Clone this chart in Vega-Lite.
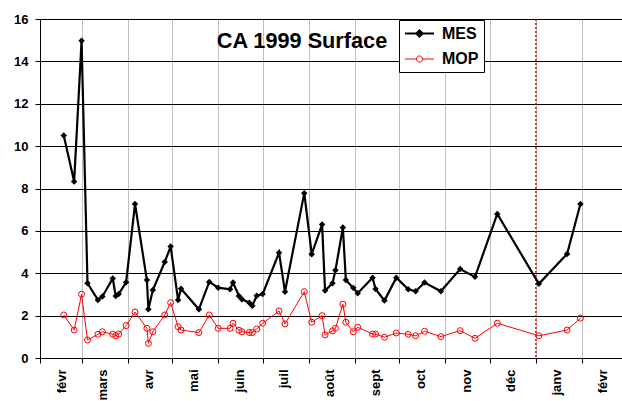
{
  "$schema": "https://vega.github.io/schema/vega-lite/v6.json",
  "width": 582,
  "height": 339,
  "autosize": {"type": "none"},
  "padding": {"left": 40, "top": 19, "right": 0, "bottom": 43},
  "background": "white",
  "config": {
    "view": {"stroke": null},
    "font": "Liberation Sans",
    "axis": {
      "grid": true,
      "gridOpacity": 1,
      "gridWidth": 1,
      "labelFont": "Liberation Sans",
      "labelFontSize": 13,
      "labelFontWeight": "bold",
      "labelColor": "black",
      "tickSize": 5,
      "tickColor": "black",
      "domainColor": "black"
    },
    "axisX": {
      "gridColor": "#c0c0c0",
      "labelAngle": 270,
      "labelAlign": "right",
      "labelBaseline": "middle",
      "labelOffset": 21,
      "labelPadding": 6,
      "labelOverlap": false,
      "labelFlush": false
    },
    "axisY": {
      "gridColor": "#000000",
      "labelPadding": 7
    }
  },
  "title": {
    "text": "CA 1999 Surface",
    "font": "Liberation Sans",
    "fontSize": 21.7,
    "fontWeight": "bold",
    "color": "black",
    "anchor": "middle",
    "frame": "group",
    "dx": -29,
    "offset": -57,
    "baseline": "alphabetic"
  },
  "datasets": {
    "marker": [{"date": "2000-01-01"}],
    "series": [
      {"date": "1999-02-17", "series": "MES", "value": 10.5},
      {"date": "1999-02-24", "series": "MES", "value": 8.33},
      {"date": "1999-03-01", "series": "MES", "value": 14.97},
      {"date": "1999-03-05", "series": "MES", "value": 3.53},
      {"date": "1999-03-12", "series": "MES", "value": 2.74},
      {"date": "1999-03-15", "series": "MES", "value": 2.9},
      {"date": "1999-03-22", "series": "MES", "value": 3.75},
      {"date": "1999-03-24", "series": "MES", "value": 2.93},
      {"date": "1999-03-26", "series": "MES", "value": 3.02},
      {"date": "1999-03-31", "series": "MES", "value": 3.57},
      {"date": "1999-04-06", "series": "MES", "value": 7.27},
      {"date": "1999-04-14", "series": "MES", "value": 3.68},
      {"date": "1999-04-15", "series": "MES", "value": 2.3},
      {"date": "1999-04-18", "series": "MES", "value": 3.21},
      {"date": "1999-04-26", "series": "MES", "value": 4.53},
      {"date": "1999-04-30", "series": "MES", "value": 5.26},
      {"date": "1999-05-05", "series": "MES", "value": 2.74},
      {"date": "1999-05-07", "series": "MES", "value": 3.27},
      {"date": "1999-05-19", "series": "MES", "value": 2.3},
      {"date": "1999-05-26", "series": "MES", "value": 3.59},
      {"date": "1999-06-01", "series": "MES", "value": 3.32},
      {"date": "1999-06-09", "series": "MES", "value": 3.24},
      {"date": "1999-06-11", "series": "MES", "value": 3.56},
      {"date": "1999-06-15", "series": "MES", "value": 2.93},
      {"date": "1999-06-17", "series": "MES", "value": 2.77},
      {"date": "1999-06-22", "series": "MES", "value": 2.61},
      {"date": "1999-06-24", "series": "MES", "value": 2.47},
      {"date": "1999-06-27", "series": "MES", "value": 2.94},
      {"date": "1999-07-01", "series": "MES", "value": 3.02},
      {"date": "1999-07-12", "series": "MES", "value": 4.97},
      {"date": "1999-07-16", "series": "MES", "value": 3.13},
      {"date": "1999-07-29", "series": "MES", "value": 7.78},
      {"date": "1999-08-03", "series": "MES", "value": 4.9},
      {"date": "1999-08-10", "series": "MES", "value": 6.3},
      {"date": "1999-08-12", "series": "MES", "value": 3.18},
      {"date": "1999-08-17", "series": "MES", "value": 3.53},
      {"date": "1999-08-19", "series": "MES", "value": 4.14},
      {"date": "1999-08-24", "series": "MES", "value": 6.16},
      {"date": "1999-08-26", "series": "MES", "value": 3.68},
      {"date": "1999-08-31", "series": "MES", "value": 3.31},
      {"date": "1999-09-03", "series": "MES", "value": 3.06},
      {"date": "1999-09-13", "series": "MES", "value": 3.79},
      {"date": "1999-09-15", "series": "MES", "value": 3.26},
      {"date": "1999-09-21", "series": "MES", "value": 2.71},
      {"date": "1999-09-29", "series": "MES", "value": 3.79},
      {"date": "1999-10-07", "series": "MES", "value": 3.24},
      {"date": "1999-10-12", "series": "MES", "value": 3.15},
      {"date": "1999-10-18", "series": "MES", "value": 3.56},
      {"date": "1999-10-29", "series": "MES", "value": 3.15},
      {"date": "1999-11-11", "series": "MES", "value": 4.2},
      {"date": "1999-11-21", "series": "MES", "value": 3.83},
      {"date": "1999-12-06", "series": "MES", "value": 6.8},
      {"date": "2000-01-03", "series": "MES", "value": 3.5},
      {"date": "2000-01-22", "series": "MES", "value": 4.91},
      {"date": "2000-01-31", "series": "MES", "value": 7.27},
      {"date": "1999-02-17", "series": "MOP", "value": 2.03},
      {"date": "1999-02-24", "series": "MOP", "value": 1.32},
      {"date": "1999-03-01", "series": "MOP", "value": 3.01},
      {"date": "1999-03-05", "series": "MOP", "value": 0.85},
      {"date": "1999-03-12", "series": "MOP", "value": 1.12},
      {"date": "1999-03-15", "series": "MOP", "value": 1.24},
      {"date": "1999-03-22", "series": "MOP", "value": 1.12},
      {"date": "1999-03-24", "series": "MOP", "value": 1.05},
      {"date": "1999-03-26", "series": "MOP", "value": 1.13},
      {"date": "1999-03-31", "series": "MOP", "value": 1.53},
      {"date": "1999-04-06", "series": "MOP", "value": 2.17},
      {"date": "1999-04-14", "series": "MOP", "value": 1.4},
      {"date": "1999-04-15", "series": "MOP", "value": 0.69},
      {"date": "1999-04-18", "series": "MOP", "value": 1.24},
      {"date": "1999-04-26", "series": "MOP", "value": 2.03},
      {"date": "1999-04-30", "series": "MOP", "value": 2.61},
      {"date": "1999-05-05", "series": "MOP", "value": 1.48},
      {"date": "1999-05-07", "series": "MOP", "value": 1.32},
      {"date": "1999-05-19", "series": "MOP", "value": 1.2},
      {"date": "1999-05-26", "series": "MOP", "value": 2.03},
      {"date": "1999-06-01", "series": "MOP", "value": 1.4},
      {"date": "1999-06-09", "series": "MOP", "value": 1.4},
      {"date": "1999-06-11", "series": "MOP", "value": 1.64},
      {"date": "1999-06-15", "series": "MOP", "value": 1.31},
      {"date": "1999-06-17", "series": "MOP", "value": 1.24},
      {"date": "1999-06-22", "series": "MOP", "value": 1.2},
      {"date": "1999-06-24", "series": "MOP", "value": 1.2},
      {"date": "1999-06-27", "series": "MOP", "value": 1.37},
      {"date": "1999-07-01", "series": "MOP", "value": 1.64},
      {"date": "1999-07-12", "series": "MOP", "value": 2.22},
      {"date": "1999-07-16", "series": "MOP", "value": 1.61},
      {"date": "1999-07-29", "series": "MOP", "value": 3.13},
      {"date": "1999-08-03", "series": "MOP", "value": 1.69},
      {"date": "1999-08-10", "series": "MOP", "value": 2.0},
      {"date": "1999-08-12", "series": "MOP", "value": 1.09},
      {"date": "1999-08-17", "series": "MOP", "value": 1.28},
      {"date": "1999-08-19", "series": "MOP", "value": 1.4},
      {"date": "1999-08-24", "series": "MOP", "value": 2.54},
      {"date": "1999-08-26", "series": "MOP", "value": 1.69},
      {"date": "1999-08-31", "series": "MOP", "value": 1.24},
      {"date": "1999-09-03", "series": "MOP", "value": 1.45},
      {"date": "1999-09-13", "series": "MOP", "value": 1.13},
      {"date": "1999-09-15", "series": "MOP", "value": 1.13},
      {"date": "1999-09-21", "series": "MOP", "value": 0.98},
      {"date": "1999-09-29", "series": "MOP", "value": 1.18},
      {"date": "1999-10-07", "series": "MOP", "value": 1.12},
      {"date": "1999-10-12", "series": "MOP", "value": 1.05},
      {"date": "1999-10-18", "series": "MOP", "value": 1.26},
      {"date": "1999-10-29", "series": "MOP", "value": 1.01},
      {"date": "1999-11-11", "series": "MOP", "value": 1.29},
      {"date": "1999-11-21", "series": "MOP", "value": 0.93},
      {"date": "1999-12-06", "series": "MOP", "value": 1.64},
      {"date": "2000-01-03", "series": "MOP", "value": 1.05},
      {"date": "2000-01-22", "series": "MOP", "value": 1.32},
      {"date": "2000-01-31", "series": "MOP", "value": 1.88}
    ]
  },
  "layer": [
    {
      "data": {"name": "marker"},
      "mark": {"type": "rule", "color": "#ff0000", "strokeDash": [2, 2], "strokeWidth": 1.5},
      "encoding": {
        "x": {
          "field": "date",
          "type": "temporal",
          "scale": {
            "type": "utc",
            "domain": [
              {"year": 1999, "month": 2, "date": 1, "utc": true},
              {"year": 2000, "month": 2, "date": 28, "utc": true}
            ]
          },
          "axis": {
            "title": null,
            "grid": true,
            "gridColor": "#c0c0c0",
            "values": [
              {"year": 1999, "month": 2, "date": 1, "utc": true},
              {"year": 1999, "month": 3, "date": 1, "utc": true},
              {"year": 1999, "month": 4, "date": 1, "utc": true},
              {"year": 1999, "month": 5, "date": 1, "utc": true},
              {"year": 1999, "month": 6, "date": 1, "utc": true},
              {"year": 1999, "month": 7, "date": 1, "utc": true},
              {"year": 1999, "month": 8, "date": 1, "utc": true},
              {"year": 1999, "month": 9, "date": 1, "utc": true},
              {"year": 1999, "month": 10, "date": 1, "utc": true},
              {"year": 1999, "month": 11, "date": 1, "utc": true},
              {"year": 1999, "month": 12, "date": 1, "utc": true},
              {"year": 2000, "month": 1, "date": 1, "utc": true},
              {"year": 2000, "month": 2, "date": 1, "utc": true}
            ],
            "labelExpr": "['janv','févr','mars','avr','mai','juin','juil','août','sept','oct','nov','déc'][utcmonth(datum.value)]"
          }
        }
      }
    },
    {
      "data": {"name": "series"},
      "transform": [{"filter": "datum.series === 'MES'"}],
      "mark": {"type": "line", "color": "#000000", "strokeWidth": 2.2},
      "encoding": {
        "x": {"field": "date", "type": "temporal"},
        "y": {
          "field": "value",
          "type": "quantitative",
          "scale": {"domain": [0, 16], "nice": false},
          "axis": {
            "title": null,
            "grid": true,
            "gridColor": "#000000",
            "values": [0, 2, 4, 6, 8, 10, 12, 14, 16]
          }
        }
      }
    },
    {
      "data": {"name": "series"},
      "transform": [{"filter": "datum.series === 'MOP'"}],
      "mark": {"type": "line", "color": "#ff0000", "strokeWidth": 1},
      "encoding": {
        "x": {"field": "date", "type": "temporal"},
        "y": {"field": "value", "type": "quantitative"}
      }
    },
    {
      "data": {"name": "series"},
      "transform": [{"filter": "datum.series === 'MES'"}],
      "mark": {"type": "point", "shape": "diamond", "filled": true, "color": "#000000", "size": 42, "opacity": 1},
      "encoding": {
        "x": {"field": "date", "type": "temporal"},
        "y": {"field": "value", "type": "quantitative"}
      }
    },
    {
      "data": {"name": "series"},
      "transform": [{"filter": "datum.series === 'MOP'"}],
      "mark": {"type": "point", "shape": "circle", "filled": false, "color": "#ff0000", "strokeWidth": 1, "size": 36, "opacity": 1},
      "encoding": {
        "x": {"field": "date", "type": "temporal"},
        "y": {"field": "value", "type": "quantitative"}
      }
    },
    {
      "data": {"name": "series"},
      "transform": [{"filter": "false"}],
      "mark": {"type": "point", "filled": false, "opacity": 1},
      "encoding": {
        "x": {"field": "date", "type": "temporal"},
        "y": {"field": "value", "type": "quantitative"},
        "color": {
          "field": "series",
          "type": "nominal",
          "scale": {"domain": ["MES", "MOP"], "range": ["#000000", "#ff0000"]},
          "legend": {
            "title": null,
            "orient": "none",
            "legendX": 359,
            "legendY": 1,
            "strokeColor": "black",
            "fillColor": "white",
            "padding": 5,
            "rowPadding": 9,
            "symbolSize": 210,
            "symbolOffset": 7,
            "labelOffset": 14,
            "labelFont": "Liberation Sans",
            "labelFontSize": 16,
            "labelFontWeight": "bold",
            "labelColor": "black"
          }
        },
        "shape": {
          "field": "series",
          "type": "nominal",
          "scale": {
            "domain": ["MES", "MOP"],
            "range": [
              "M-2,0L2,0M0,-0.42L0.42,0L0,0.42L-0.42,0ZM0,-0.2L0.2,0L0,0.2L-0.2,0Z",
              "M-2,0L-0.42,0M0.42,0L2,0M-0.42,0A0.42,0.42 0 1,0 0.42,0A0.42,0.42 0 1,0 -0.42,0Z"
            ]
          }
        },
        "strokeWidth": {
          "field": "series",
          "type": "nominal",
          "scale": {"domain": ["MES", "MOP"], "range": [2.2, 1]}
        }
      }
    }
  ]
}
